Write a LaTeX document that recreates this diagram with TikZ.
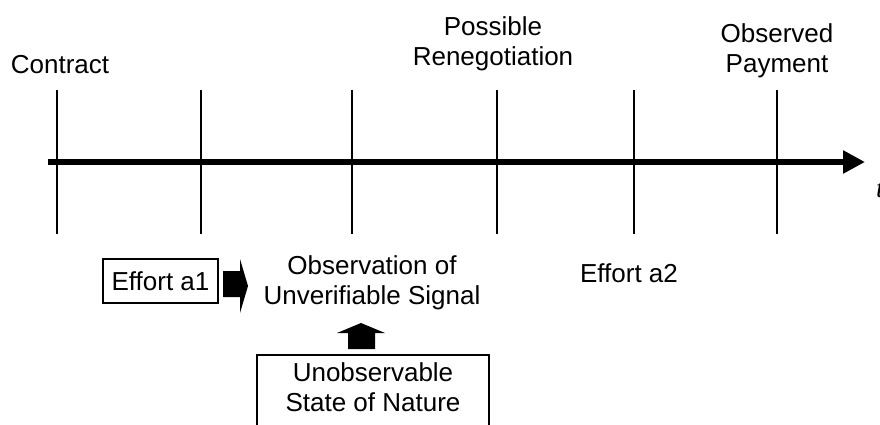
\documentclass[tikz,border=0pt]{standalone}
\usepackage{fontspec}
\setmainfont{Liberation Sans}
\newfontfamily\tfont{Liberation Serif}
\usetikzlibrary{arrows.meta}
\begin{document}
\begin{tikzpicture}[x=1pt,y=-1pt,
  lbl/.style={font=\fontsize{26}{30}\selectfont, align=center, inner sep=0pt},
  tick/.style={line width=2.7pt},
  boxed/.style={draw, line width=1.4pt},
  blk/.style={fill=black, draw=none}]
\useasboundingbox (0,0) rectangle (880,425);
% axis
\coordinate (a0) at (48,162);
\coordinate (a1) at (865,162);
\draw[line width=6pt, -{Triangle[length=22pt,width=22pt]}] (a0) -- (a1);
\node[anchor=west, inner sep=0pt, font=\tfont\itshape\fontsize{28}{30}\selectfont] (t) at (876,190) {t};
% ticks
\foreach \x in {57,201,352,497,634,777} {
  \draw[tick] (\x,90) -- (\x,234);
}
% top labels
\node[lbl, anchor=base] (contract) at (60,74) {Contract};
\node[lbl] (reneg) at (493,44) {Possible\\Renegotiation};
\node[lbl] (pay) at (777,51) {Observed\\Payment};
% bottom labels
\node[lbl, boxed, minimum width=115pt, minimum height=44pt] (e1) at (160.5,281) {Effort a1};
\node[lbl] (obs) at (372,283) {Observation of\\Unverifiable Signal};
\node[lbl, anchor=base] (e2) at (629,282) {Effort a2};
\node[lbl] (state) at (373,387.5) {Unobservable\\State of Nature};
\draw[boxed] (257,440) -- (257,355) -- (489,355) -- (489,440);
% block arrows
\fill[blk] (223,271) -- (240,271) -- (240,259) -- (248,286) -- (240,313) -- (240,297) -- (223,297) -- cycle;
\fill[blk] (348,349) -- (348,333) -- (337,333) -- (361,323) -- (385,333) -- (375,333) -- (375,349) -- cycle;
\end{tikzpicture}
\end{document}
